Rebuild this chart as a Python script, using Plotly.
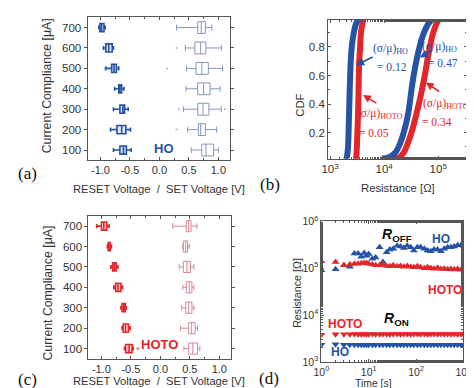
import plotly.graph_objects as go

W, H = 474, 388

# ---------------- Panels (a) and (c): box statistics ----------------
compliance = [100, 200, 300, 400, 500, 600, 700]

# (a) HO  RESET voltage
ho_reset_lo  = [-0.78, -0.83, -0.78, -0.76, -0.91, -0.95, -1.03]
ho_reset_q1  = [-0.67, -0.72, -0.67, -0.69, -0.81, -0.91, -1.01]
ho_reset_med = [-0.61, -0.64, -0.62, -0.67, -0.77, -0.86, -0.98]
ho_reset_q3  = [-0.56, -0.57, -0.59, -0.64, -0.73, -0.80, -0.94]
ho_reset_hi  = [-0.48, -0.49, -0.53, -0.60, -0.69, -0.78, -0.92]
# (a) HO  SET voltage
ho_set_lo  = [0.54, 0.48, 0.41, 0.45, 0.46, 0.44, 0.29]
ho_set_q1  = [0.72, 0.66, 0.65, 0.65, 0.62, 0.60, 0.65]
ho_set_med = [0.79, 0.70, 0.74, 0.75, 0.72, 0.70, 0.71]
ho_set_q3  = [0.92, 0.78, 0.84, 0.86, 0.83, 0.79, 0.78]
ho_set_hi  = [1.00, 0.97, 1.05, 1.03, 1.07, 1.05, 0.89]
ho_out_v = [-0.93, 0.13, 0.29, 0.33, 1.11, 0.29]
ho_out_c = [500, 500, 600, 300, 300, 200]

# (c) HOTO RESET voltage
hoto_reset_lo  = [-0.61, -0.65, -0.67, -0.79, -0.84, -0.90, -1.08]
hoto_reset_q1  = [-0.59, -0.63, -0.65, -0.76, -0.81, -0.885, -1.00]
hoto_reset_med = [-0.53, -0.59, -0.62, -0.72, -0.78, -0.87, -0.96]
hoto_reset_q3  = [-0.48, -0.54, -0.595, -0.67, -0.75, -0.85, -0.91]
hoto_reset_hi  = [-0.46, -0.51, -0.58, -0.64, -0.72, -0.83, -0.87]
# (c) HOTO SET voltage
hoto_set_lo  = [0.40, 0.34, 0.36, 0.38, 0.32, 0.38, 0.21]
hoto_set_q1  = [0.48, 0.48, 0.43, 0.44, 0.39, 0.39, 0.44]
hoto_set_med = [0.55, 0.53, 0.48, 0.49, 0.45, 0.43, 0.48]
hoto_set_q3  = [0.63, 0.59, 0.535, 0.535, 0.51, 0.46, 0.52]
hoto_set_hi  = [0.67, 0.63, 0.57, 0.57, 0.57, 0.49, 0.62]
hoto_out_v = [-0.38]
hoto_out_c = [100]

volt_ticks = [-1.0, -0.5, 0.0, 0.5, 1.0]
volt_labels = ["-1.0", "-0.5", "0.0", "0.5", "1.0"]

# ---------------- Panel (b): cumulative distributions ----------------
ho_lrs_R = [1950, 2050, 2150, 2250, 2400, 2550, 2750, 3000, 3400]
ho_lrs_cdf = [0.0, 0.03, 0.10, 0.34, 0.68, 0.82, 0.90, 0.96, 1.0]
hoto_lrs_R = [3000, 3050, 3150, 3300, 3450, 3600, 3730, 3950, 4150]
hoto_lrs_cdf = [0.0, 0.03, 0.12, 0.34, 0.68, 0.80, 0.90, 0.96, 1.0]
ho_hrs_R = [9000, 12000, 16000, 19500, 23000, 28000, 32000, 35500, 42000, 52000, 65000, 80000]
ho_hrs_cdf = [0.02, 0.025, 0.06, 0.12, 0.20, 0.34, 0.50, 0.61, 0.75, 0.88, 0.96, 1.0]
hoto_hrs_R = [14000, 19000, 23000, 27000, 32000, 40000, 50000, 57000, 66000, 78000, 92000, 105000]
hoto_hrs_cdf = [0.02, 0.025, 0.06, 0.12, 0.20, 0.34, 0.50, 0.61, 0.75, 0.88, 0.96, 1.0]

# ---------------- Panel (d): retention ----------------
time_s = [1, 2, 3, 4, 5, 6, 7, 8, 9, 10, 12, 14, 17, 20, 24, 28, 33, 40, 47, 55,
          65, 77, 90, 107, 125, 150, 175, 205, 240, 285, 335, 395, 465, 545,
          640, 755, 890, 1000]
ho_roff = [9.0e4, 9.5e4, 1.15e5, 1.07e5, 2.05e5, 2.05e5, 1.75e5, 2.1e5, 1.85e5, 2.0e5,
           1.6e5, 1.7e5, 2.8e5, 1.35e5, 2.2e5, 2.5e5, 2.6e5, 3.0e5, 2.9e5, 2.7e5,
           3.0e5, 2.8e5, 2.4e5, 2.8e5, 2.8e5, 2.6e5, 2.4e5, 2.3e5, 2.5e5, 2.5e5,
           2.3e5, 2.6e5, 2.8e5, 2.8e5, 2.9e5, 3.1e5, 3.1e5, 3.0e5]
hoto_roff = [1.4e5, 1.35e5, 1.15e5, 1.2e5, 1.25e5, 1.25e5, 1.28e5, 1.3e5, 1.3e5, 1.25e5,
             1.2e5, 1.15e5, 1.15e5, 1.2e5, 1.12e5, 1.1e5, 1.15e5, 1.1e5, 1.12e5, 1.08e5,
             1.12e5, 1.08e5, 1.05e5, 1.1e5, 1.05e5, 1.0e5, 1.05e5, 1.0e5, 9.8e4, 1.02e5,
             9.6e4, 9.8e4, 9.5e4, 9.6e4, 9.4e4, 9.6e4, 9.3e4, 9.6e4]
hoto_ron = [3.8e3, 3.9e3, 3.9e3, 3.9e3, 3.95e3, 3.9e3, 3.9e3, 3.95e3, 3.9e3, 3.9e3,
            3.95e3, 3.9e3, 3.9e3, 3.95e3, 3.9e3, 3.9e3, 3.95e3, 3.95e3, 3.9e3, 3.95e3,
            3.95e3, 3.9e3, 3.95e3, 3.95e3, 3.9e3, 3.95e3, 3.9e3, 3.95e3, 3.95e3, 3.9e3,
            3.95e3, 3.9e3, 3.95e3, 3.9e3, 3.95e3, 3.9e3, 3.95e3, 3.9e3]
ho_ron = [2.35e3, 2.4e3, 2.35e3, 2.35e3, 2.35e3, 2.35e3, 2.35e3, 2.35e3, 2.35e3, 2.35e3,
          2.35e3, 2.35e3, 2.35e3, 2.35e3, 2.35e3, 2.35e3, 2.35e3, 2.35e3, 2.35e3, 2.35e3,
          2.35e3, 2.35e3, 2.35e3, 2.35e3, 2.35e3, 2.35e3, 2.35e3, 2.35e3, 2.35e3, 2.35e3,
          2.35e3, 2.35e3, 2.35e3, 2.35e3, 2.35e3, 2.35e3, 2.35e3, 2.35e3]

# ---------------- styling ----------------
BLUE = "#2653a6"
BLUE_L = "#8597b8"
RED = "#e3262b"
RED_L = "#d98893"
AX = "#555555"
TXT = "#333333"
FONT = "Liberation Sans"
SERIF = "Liberation Serif"

def px(x):
    return x / W

def py(y):
    return 1 - y / H

fig = go.Figure()

def add_box(ax, lo, q1, med, q3, hi, color, fill, width, lw):
    fig.add_trace(go.Box(
        orientation="h", y=compliance, q1=q1, median=med, q3=q3,
        lowerfence=lo, upperfence=hi, width=width, whiskerwidth=0.5,
        line=dict(color=color, width=lw), fillcolor=fill,
        boxpoints=False, showlegend=False, xaxis="x" + ax, yaxis="y" + ax))

add_box("", ho_reset_lo, ho_reset_q1, ho_reset_med, ho_reset_q3, ho_reset_hi,
        BLUE, "rgba(38,83,166,0.15)", 40, 1.6)
add_box("", ho_set_lo, ho_set_q1, ho_set_med, ho_set_q3, ho_set_hi,
        BLUE_L, "rgba(255,255,255,0)", 58, 1.0)
fig.add_trace(go.Scatter(x=ho_out_v, y=ho_out_c, mode="markers",
                         marker=dict(size=2, color="#aab4c8"), showlegend=False,
                         xaxis="x", yaxis="y"))

add_box("3", hoto_reset_lo, hoto_reset_q1, hoto_reset_med, hoto_reset_q3, hoto_reset_hi,
        RED, "rgba(227,38,43,0.15)", 40, 1.6)
add_box("3", hoto_set_lo, hoto_set_q1, hoto_set_med, hoto_set_q3, hoto_set_hi,
        RED_L, "rgba(255,255,255,0)", 55, 1.0)
fig.add_trace(go.Scatter(x=hoto_out_v, y=hoto_out_c, mode="markers",
                         marker=dict(size=3, color="#e88a8d"), showlegend=False,
                         xaxis="x3", yaxis="y3"))

# (b) CDF curves
for R, c, col in [(hoto_lrs_R, hoto_lrs_cdf, RED), (hoto_hrs_R, hoto_hrs_cdf, RED),
                  (ho_lrs_R, ho_lrs_cdf, BLUE), (ho_hrs_R, ho_hrs_cdf, BLUE)]:
    fig.add_trace(go.Scatter(x=R, y=c, mode="lines", line=dict(color=col, width=6, shape="spline"),
                             showlegend=False, xaxis="x2", yaxis="y2"))

# (d) retention
for yv, sym, col in [(ho_roff, "triangle-up", BLUE), (hoto_roff, "triangle-up", RED),
                     (hoto_ron, "triangle-down", RED), (ho_ron, "triangle-down", BLUE)]:
    fig.add_trace(go.Scatter(x=time_s, y=yv, mode="markers",
                             marker=dict(symbol=sym, size=7, color=col, line=dict(width=0)),
                             showlegend=False, xaxis="x4", yaxis="y4"))

tickfont = dict(family=FONT, size=11.5, color=TXT)
xtickfont = dict(family=FONT, size=11, color=TXT)

def frame(**kw):
    d = dict(showline=True, linecolor=AX, linewidth=1, mirror="ticks", showgrid=False,
             zeroline=False, tickcolor=AX, ticklen=3, tickfont=tickfont)
    d.update(kw)
    return d

fig.update_layout(
    width=W, height=H, margin=dict(l=0, r=0, t=0, b=0),
    paper_bgcolor="white", plot_bgcolor="white", showlegend=False,
    # (a)
    xaxis=frame(domain=[px(74), px(221)], anchor="y", range=[-1.22, 1.19],
                tickvals=volt_ticks, ticktext=volt_labels, ticks="inside", tickfont=xtickfont,
                minor=dict(dtick=0.25, ticks="inside", ticklen=2, tickcolor=AX)),
    yaxis=frame(domain=[py(149), py(1)], anchor="x", range=[53, 752],
                tickvals=compliance, ticks="outside"),
    # (b)
    xaxis2=frame(domain=[px(323), px(467)], anchor="y2", type="log", range=[2.964, 5.536],
                 tickvals=[1e3, 1e4, 1e5], ticktext=["10<sup>3</sup>", "10<sup>4</sup>", "10<sup>5</sup>"],
                 ticks="inside", minor=dict(ticks="inside", ticklen=2, tickcolor=AX)),
    yaxis2=frame(domain=[py(148), py(4)], anchor="x2", range=[0.018, 0.99],
                 tickvals=[0.2, 0.4, 0.6, 0.8], ticktext=["0.2", "0.4", "0.6", "0.8"],
                 ticks="inside", minor=dict(dtick=0.1, ticks="inside", ticklen=2, tickcolor=AX)),
    # (c)
    xaxis3=frame(domain=[px(75), px(222)], anchor="y3", range=[-1.22, 1.19],
                 tickvals=volt_ticks, ticktext=volt_labels, ticks="inside", tickfont=xtickfont,
                 minor=dict(dtick=0.25, ticks="inside", ticklen=2, tickcolor=AX)),
    yaxis3=frame(domain=[py(356), py(207)], anchor="x3", range=[48, 752],
                 tickvals=compliance, ticks="outside"),
    # (d)
    xaxis4=frame(domain=[px(316), px(463)], anchor="y4", type="log", range=[0, 3],
                 tickvals=[1, 10, 100, 1000],
                 ticktext=["10<sup>0</sup>", "10<sup>1</sup>", "10<sup>2</sup>", "10<sup>3</sup>"],
                 ticks="inside", tickfont=dict(family=FONT, size=10.5, color=TXT),
                 minor=dict(ticks="inside", ticklen=2, tickcolor=AX)),
    yaxis4=frame(domain=[py(359), py(213)], anchor="x4", type="log", range=[3, 6],
                 tickvals=[1e3, 1e4, 1e5, 1e6],
                 ticktext=["10<sup>3</sup>", "10<sup>4</sup>", "10<sup>5</sup>", "10<sup>6</sup>"],
                 ticks="inside", tickfont=dict(family=FONT, size=10.5, color=TXT),
                 minor=dict(ticks="inside", ticklen=2, tickcolor=AX)),
)

ann = []

def text(x, y, s, size=12, color=TXT, family=FONT, angle=0, xanchor="center"):
    ann.append(dict(x=px(x), y=py(y), xref="paper", yref="paper", text=s, showarrow=False,
                    font=dict(family=family, size=size, color=color), textangle=angle,
                    xanchor=xanchor, yanchor="middle"))

def arrow(hx, hy, tx, ty, color):
    ann.append(dict(x=px(hx), y=py(hy), xref="paper", yref="paper", text="", showarrow=True,
                    ax=tx - hx, ay=ty - hy, arrowhead=2, arrowsize=1, arrowwidth=1.6,
                    arrowcolor=color))

# axis titles
xt = "RESET Voltage&nbsp;&nbsp;/&nbsp;&nbsp;SET Voltage [V]"
text(148, 179, xt, size=11.2)
text(148, 379, xt, size=11.2)
text(33, 72, "Current Compliance [μA]", size=12.3, angle=-90)
text(33, 287, "Current Compliance [μA]", size=12.3, angle=-90)
text(395, 178, "Resistance [Ω]", size=11.3)
text(294, 93, "CDF", size=11.3, angle=-90)
text(370, 381.5, "Time [s]", size=10.4)
text(290, 287, "Resistance [Ω]", size=10.7, angle=-90)

# panel labels
text(0, 163, "(a)", size=17, family=SERIF, color="#111", xanchor="left")
text(250, 175, "(b)", size=17, family=SERIF, color="#111", xanchor="left")
text(0, 377, "(c)", size=17, family=SERIF, color="#111", xanchor="left")
text(249, 376, "(d)", size=17, family=SERIF, color="#111", xanchor="left")

# in-plot labels
text(153, 137, "<b>HO</b>", size=13, color=BLUE)
text(148, 341, "<b>HOTO</b>", size=13, color=RED)

# (b) annotations
text(388, 34, "(σ/μ)<sub>HO</sub>", size=11.5, color=BLUE, family=SERIF)
text(389, 53, "= 0.12", size=11.5, color=BLUE, family=SERIF)
text(438, 32, "(σ/μ)<sub>HO</sub>", size=11.5, color=BLUE, family=SERIF)
text(442, 49, "= 0.47", size=11.5, color=BLUE, family=SERIF)
text(377, 102, "(σ/μ)<sub>HOTO</sub>", size=11.5, color=RED, family=SERIF)
text(371, 121, "= 0.05", size=11.5, color=RED, family=SERIF)
text(445, 91, "(σ/μ)<sub>HOTO</sub>", size=11.5, color=RED, family=SERIF)
text(436, 110, "= 0.34", size=11.5, color=RED, family=SERIF)
arrow(352, 51, 370, 42, BLUE)
arrow(418, 43, 432, 35, BLUE)
arrow(359, 82, 374, 91, RED)
arrow(424, 69, 439, 79, RED)

# (d) annotations
text(394, 227, "<b><i>R</i></b><b><sub>OFF</sub></b>", size=14, color="#111")
text(440, 231, "<b>HO</b>", size=12, color=BLUE)
text(444, 284, "<b>HOTO</b>", size=12, color=RED)
text(394, 314, "<b><i>R</i></b><b><sub>ON</sub></b>", size=14, color="#111")
text(340, 320, "<b>HOTO</b>", size=12, color=RED)
text(335, 349, "<b>HO</b>", size=12, color=BLUE)

fig.update_layout(annotations=ann)
fig.write_html("out.html")
